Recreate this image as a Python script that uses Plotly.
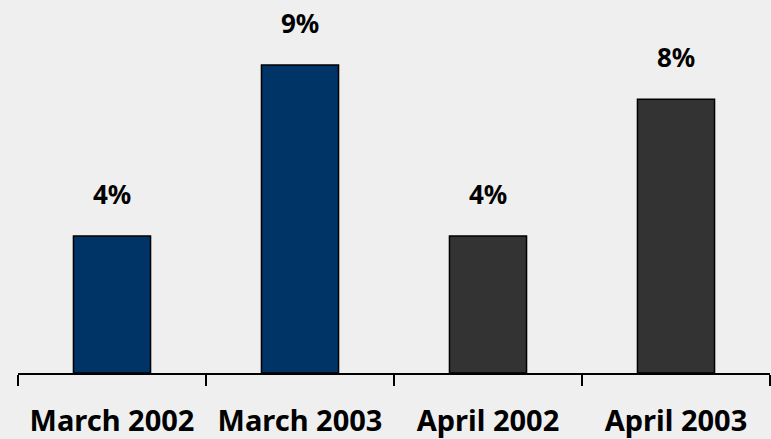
import plotly.graph_objects as go

periodos = ['March 2002', 'March 2003', 'April 2002', 'April 2003']
valores = [4, 9, 4, 8]
cores = ['#003366', '#003366', '#333333', '#333333']

fonte = 'Noto Sans'

fig = go.Figure(go.Bar(
    x=periodos,
    y=valores,
    marker=dict(color=cores, line=dict(color='#000000', width=1.5)),
    width=0.41,
    hoverinfo='skip',
))

# rótulos de porcentagem acima das barras
for p, v in zip(periodos, valores):
    fig.add_annotation(
        x=p, y=v, text=f'<b>{v}%</b>', showarrow=False,
        yanchor='bottom', yshift=22,
        font=dict(family=fonte, size=26, color='#000000'),
    )

fig.update_layout(
    width=771, height=439,
    paper_bgcolor='#efefef', plot_bgcolor='#efefef',
    margin=dict(l=18, r=1, t=0, b=66, autoexpand=False),
    showlegend=False,
    font=dict(family=fonte, color='#000000'),
)
fig.update_xaxes(
    showline=True, linecolor='#000000', linewidth=2,
    ticks='outside', tickson='boundaries', ticklen=11, tickcolor='#000000', tickwidth=2,
    tickfont=dict(family=fonte, size=29, color='#000000'),
    tickprefix='<b>', ticksuffix='</b>',
    ticklabelstandoff=21,
)
fig.update_yaxes(visible=False, range=[0, 10.9], showgrid=False)

fig.write_html('out.html', config={'displayModeBar': False},
               post_script="document.body.style.margin='0';")
